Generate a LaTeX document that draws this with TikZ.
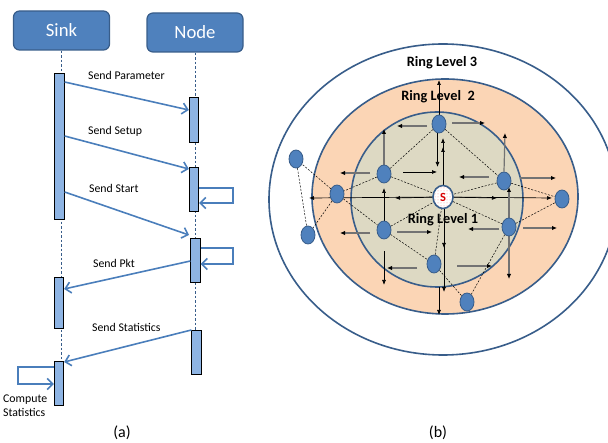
\documentclass[tikz,border=0pt]{standalone}
\usepackage{fontspec}
\setmainfont{Carlito}
\usetikzlibrary{arrows.meta,shapes.geometric,patterns}

\pgfdeclarelayer{rings}
\pgfdeclarelayer{edges}
\pgfsetlayers{rings,edges,main}

\definecolor{hdrblue}{RGB}{79,129,189}
\definecolor{hdrline}{RGB}{56,93,138}
\definecolor{barblue}{RGB}{142,180,227}
\definecolor{msgblue}{RGB}{74,126,187}
\definecolor{peach}{RGB}{251,213,181}
\definecolor{khaki}{RGB}{221,217,195}

\tikzset{
  header/.style={draw=hdrline, line width=1.2pt, fill=hdrblue, rounded corners=6pt,
    minimum width=96pt, minimum height=39pt, inner sep=0pt, text=white,
    font=\fontsize{18.7}{22}\selectfont},
  actbar/.style={draw=black, line width=0.8pt, fill=barblue, minimum width=9.5pt, inner sep=0pt},
  lifeline/.style={draw=hdrline, dash pattern=on 2.5pt off 2pt, line width=0.6pt},
  msg/.style={draw=msgblue, line width=1.6pt,
    -{Straight Barb[length=5.5pt,width=11pt,line width=1.6pt]}},
  msglabel/.style={font=\fontsize{11.8}{14.5}\selectfont, anchor=west, inner sep=0pt},
  caption/.style={font=\fontsize{16}{18}\selectfont, inner sep=0pt},
  ringline/.style={draw=hdrline, line width=1.6pt},
  ringlabel/.style={font=\bfseries\fontsize{14.3}{16}\selectfont, inner sep=0pt},
  mote/.style={ellipse, draw=hdrline, line width=0.8pt, fill=hdrblue,
    minimum width=14pt, minimum height=18pt, inner sep=0pt},
  sinknode/.style={ellipse, draw=hdrline, line width=1.6pt, minimum width=20pt,
    minimum height=23pt, inner sep=0pt, preaction={fill=white},
    pattern=dots, pattern color=red!45, text=red!85!black,
    font=\bfseries\fontsize{12.5}{12.5}\selectfont},
  mesh/.style={draw=black, dash pattern=on 2pt off 1.5pt, line width=0.5pt},
  ray/.style={draw=black, line width=0.7pt, -{Latex[length=5pt,width=4pt]}},
  graybar/.style={draw=black!55, line width=1.2pt, -{Latex[length=5pt,width=4.5pt,color=black]}},
}

\begin{document}
\begin{tikzpicture}[x=1pt,y=-1pt]
\useasboundingbox (0,0) rectangle (608,443);
\clip (0,0) rectangle (608,443);

% ---------- (a) message sequence ----------
\node[header] (sink) at (61.5,30.5) {Sink};
\node[header] (node) at (195,32.5) {Node};

\node[actbar, minimum height=146pt] (s1) at (59.5,146) {};
\node[actbar, minimum height=45pt]  (n1) at (194,119.5) {};
\node[actbar, minimum height=44pt]  (n2) at (194,189) {};
\node[actbar, minimum height=44pt]  (n3) at (195.5,260) {};
\node[actbar, minimum height=51pt]  (s2) at (59,302.5) {};
\node[actbar, minimum height=44pt]  (n4) at (196.5,352) {};
\node[actbar, minimum height=44pt]  (s3) at (59,383) {};

\begin{pgfonlayer}{edges}
  \draw[lifeline] (sink.south) -- (sink.south |- s3.north);
  \draw[lifeline] (node.south) -- (node.south |- n4.north);
\end{pgfonlayer}

\draw[msg] (s1.east |- 0,82)  -- (n1.west |- 0,110);
\draw[msg] (s1.east |- 0,136) -- (n2.west |- 0,169);
\draw[msg] (s1.east |- 0,192) -- (189,235);
\draw[msg] (n3.west |- 0,261) -- (s2.east |- 0,289);
\draw[msg] (n4.west |- 0,330) -- (s3.east |- 0,362);

\draw[msg] (n2.east |- 0,188) -| (233,203) -- (n2.east |- 0,203);
\draw[msg] (n3.east |- 0,248) -| (233,264) -- (n3.east |- 0,264);
\draw[msg] (s3.west |- 0,367) -| (18,384) -- (s3.west |- 0,384);

\node[msglabel] (lpar)  at (88,75)  {Send Parameter};
\node[msglabel] (lset)  at (88,131) {Send Setup};
\node[msglabel] (lsta)  at (89,188) {Send Start};
\node[msglabel] (lpkt)  at (93,263) {Send Pkt};
\node[msglabel] (lstat) at (92,327) {Send Statistics};
\node[msglabel, align=left] (lcomp) at (3,405.5) {Compute\\Statistics};

\node[caption] (capa) at (122,433) {(a)};

% ---------- (b) ring topology ----------
\begin{pgfonlayer}{rings}
  \draw[ringline, fill=white] (443,199.5) ellipse [x radius=174pt, y radius=155.5pt];
  \draw[ringline, fill=peach] (445,196.5) ellipse [x radius=133pt, y radius=117.5pt];
  \draw[ringline, fill=khaki] (437,199.5) ellipse [x radius=86pt, y radius=87.5pt];
\end{pgfonlayer}

\node[sinknode] (ns)   at (443,197) {S};
\node[mote] (nt)   at (439,124) {};
\node[mote] (nul)  at (384,174) {};
\node[mote] (nur)  at (504,181) {};
\node[mote] (nl)   at (337,194) {};
\node[mote] (nro)  at (562,199) {};
\node[mote] (nflt) at (296,159) {};
\node[mote] (nflb) at (308,235) {};
\node[mote] (nll)  at (384,230) {};
\node[mote] (nlr)  at (509,227) {};
\node[mote] (nb)   at (434,264) {};
\node[mote] (nbo)  at (467,302) {};

\node[ringlabel] (r3) at (442,63)  {Ring Level 3};
\node[ringlabel] (r2) at (438,97)  {Ring Level\ \ 2};
\node[ringlabel] (r1) at (443,220) {Ring Level 1};

\begin{pgfonlayer}{edges}
  % neighbour links
  \foreach \a/\b in {nt/nul, nt/nur, nul/nl, nul/ns, nur/ns, nur/nro, nlr/nro,
                     nl/nll, nl/nflt, nl/nflb, nflt/nflb, nll/ns, nll/nb, nb/ns,
                     ns/nlr, nlr/nbo, nb/nbo}
    \draw[mesh] (\a) -- (\b);

  % broadcast from the sink
  \draw[ray] (ns.center) -- (309,198);
  \draw[ray] (ns.center) -- (395,198);
  \draw[ray] (ns.center) -- (552,198);
  \draw[ray] (ns.center) -- (497,198);
  \draw[ray] (ns.south -| 444,0) -- (444,292);
  \draw[ray] (ns.south -| 444,0) -- (444,248);
  \draw[ray] (439,287) -- (439,315);
  \draw[ray] (ns.north) -- (443,138);
  \draw[ray] (ns.north) -- (443,147);

  % forwarding by the ring nodes
  \draw[ray] (nt.north) -- (439,80);
  \draw[ray] (nt.south -| 437.5,0) -- (437.5,167);
  \draw[graybar] (427,126) -- (397,126);
  \draw[graybar] (452,123) -- (485,123);

  \draw[graybar] (nul.north) -- (384,129);
  \draw[graybar] (370,173) -- (340,173);
  \draw[ray] (403,172) -- (437,172);

  \draw[ray] (nll.north) -- (384,188);
  \draw[graybar] (370,233) -- (340,233);
  \draw[graybar] (397,232) -- (432,232);
  \draw[ray] (384,251) -- (384,285);

  \draw[graybar] (nur.north) -- (505,133);
  \draw[graybar] (489,177) -- (459,177);
  \draw[graybar] (520,178) -- (556,178);

  \draw[graybar] (nlr.north) -- (509,187);
  \draw[graybar] (499,229) -- (468,229);
  \draw[graybar] (523,228) -- (557,228);
  \draw[graybar] (nlr.south) -- (509,279);

  \draw[graybar] (417,268) -- (387,268);
  \draw[graybar] (457,266) -- (492,266);
\end{pgfonlayer}

\node[caption] (capb) at (438,433) {(b)};
\end{tikzpicture}
\end{document}
